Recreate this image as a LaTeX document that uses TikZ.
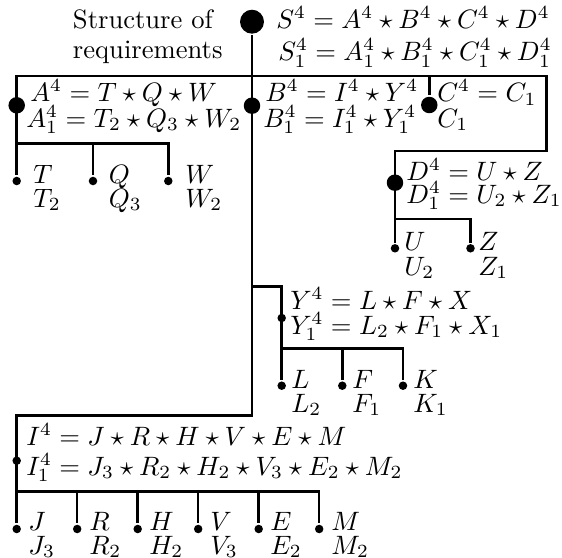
\documentclass[tikz,border=0pt]{standalone}
\begin{document}
\begin{tikzpicture}[x=0.376pt,y=-0.376pt,line width=0.95pt,
  rootdot/.style={circle,fill,inner sep=0pt,minimum size=9pt},
  middot/.style={circle,fill,inner sep=0pt,minimum size=6.2pt},
  leafdot/.style={circle,fill,inner sep=0pt,minimum size=3.2pt},
  lbl/.style={anchor=base west,inner sep=0pt}]
\useasboundingbox (0,0) rectangle (562,558);
% dots
\node[rootdot] (root) at (252,21.7) {};
\node[middot] (A) at (16.7,105.3) {};
\node[middot] (B) at (252,105.7) {};
\node[middot] (C) at (429.3,105) {};
\node[middot] (D) at (395,182.7) {};
\node[leafdot] (Y) at (281.7,318) {};
\node[leafdot] (I) at (16.7,460.7) {};
\node[leafdot] (T) at (16.7,181) {};
\node[leafdot] (Q) at (93,181) {};
\node[leafdot] (W) at (168.3,181) {};
\node[leafdot] (U) at (395,248.3) {};
\node[leafdot] (Z) at (470.5,248.3) {};
\node[leafdot] (L) at (281.7,385.7) {};
\node[leafdot] (F) at (342.3,385.7) {};
\node[leafdot] (K) at (403,385.7) {};
\node[leafdot] (J) at (16.7,529) {};
\node[leafdot] (R) at (77.2,529) {};
\node[leafdot] (H) at (137.7,529) {};
\node[leafdot] (V) at (198.2,529) {};
\node[leafdot] (E) at (258.7,529) {};
\node[leafdot] (M) at (319.2,529) {};
% junctions
\coordinate (barL) at (16.7,76);
\coordinate (barC) at (429.3,76);
\coordinate (barR) at (546.7,76);
\coordinate (aBar) at (16.7,143.3);
\coordinate (qTop) at (93,143.3);
\coordinate (wTop) at (168.3,143.3);
\coordinate (dC1) at (546.7,151);
\coordinate (dC2) at (395,151);
\coordinate (dBar) at (395,219);
\coordinate (zTop) at (470.5,219);
\coordinate (yTurn) at (252,286.7);
\coordinate (yTop) at (281.7,286.7);
\coordinate (yBar) at (281.7,348.3);
\coordinate (fTop) at (342.3,348.3);
\coordinate (kTop) at (403,348.3);
\coordinate (iTurn) at (252,415.7);
\coordinate (iTop) at (16.7,415.7);
\coordinate (iBar) at (16.7,491.7);
\coordinate (rTop) at (77.2,491.7);
\coordinate (hTop) at (137.7,491.7);
\coordinate (vTop) at (198.2,491.7);
\coordinate (eTop) at (258.7,491.7);
\coordinate (mTop) at (319.2,491.7);
% connectors
\draw (root) -- (iTurn) -- (iTop) -- (J);
\draw (U) -- (dC2) -- (dC1) -- (barR) -- (barL) -- (T);
\draw (aBar) -- (wTop) -- (W);
\draw (qTop) -- (Q);
\draw (barC) -- (C);
\draw (dBar) -- (zTop) -- (Z);
\draw (yTurn) -- (yTop) -- (L);
\draw (yBar) -- (kTop) -- (K);
\draw (fTop) -- (F);
\draw (iBar) -- (mTop) -- (M);
\draw (rTop) -- (R);
\draw (hTop) -- (H);
\draw (vTop) -- (V);
\draw (eTop) -- (E);
% texts
\node[lbl] (st1) at (71.7,28.3) {Structure of};
\node[lbl] (st2) at (71.7,58) {requirements};
\node[lbl] (s1) at (275,28.5) {$S^4 = A^4\star B^4\star C^4\star D^4$};
\node[lbl] (s2) at (277,60.5) {$S^4_1 = A^4_1\star B^4_1\star C^4_1\star D^4_1$};
\node[lbl] (a1) at (29,101.5) {$A^4 = T\star Q\star W$};
\node[lbl] (a2) at (25,127) {$A^4_1 = T_2\star Q_3\star W_2$};
\node[lbl] (b1) at (264,101.5) {$B^4 = I^4\star Y^4$};
\node[lbl] (b2) at (262,127) {$B^4_1 = I^4_1\star Y^4_1$};
\node[lbl] (c1) at (436,101.5) {$C^4 = C_1$};
\node[lbl] (c2) at (436,127) {$C_1$};
\node[lbl] (d1) at (405,180) {$D^4 = U\star Z$};
\node[lbl] (d2) at (405,203) {$D^4_1 = U_2\star Z_1$};
\node[lbl] (y1) at (289,309) {$Y^4 = L\star F\star X$};
\node[lbl] (y2) at (289,334) {$Y^4_1 = L_2\star F_1\star X_1$};
\node[lbl] (i1) at (25,445) {$I^4 = J\star R\star H\star V\star E\star M$};
\node[lbl] (i2) at (25,475) {$I^4_1 = J_3\star R_2\star H_2\star V_3\star E_2\star M_2$};
% leaf labels
\node[lbl] (tl1) at (32,183) {$T$};
\node[lbl] (tl2) at (32,207) {$T_2$};
\node[lbl] (ql1) at (107.5,183) {$Q$};
\node[lbl] (ql2) at (107.5,207) {$Q_3$};
\node[lbl] (wl1) at (184,183) {$W$};
\node[lbl] (wl2) at (184,207) {$W_2$};
\node[lbl] (ul1) at (403,250.5) {$U$};
\node[lbl] (ul2) at (403,275) {$U_2$};
\node[lbl] (zl1) at (477,250.5) {$Z$};
\node[lbl] (zl2) at (477,275) {$Z_1$};
\node[lbl] (ll1) at (290,388) {$L$};
\node[lbl] (ll2) at (290,412) {$L_2$};
\node[lbl] (fl1) at (351,388) {$F$};
\node[lbl] (fl2) at (351,412) {$F_1$};
\node[lbl] (kl1) at (412,388) {$K$};
\node[lbl] (kl2) at (412,412) {$K_1$};
\node[lbl] (jl1) at (27,530) {$J$};
\node[lbl] (jl2) at (27,554) {$J_3$};
\node[lbl] (rl1) at (88,530) {$R$};
\node[lbl] (rl2) at (88,554) {$R_2$};
\node[lbl] (hl1) at (148,530) {$H$};
\node[lbl] (hl2) at (148,554) {$H_2$};
\node[lbl] (vl1) at (209,530) {$V$};
\node[lbl] (vl2) at (209,554) {$V_3$};
\node[lbl] (el1) at (269,530) {$E$};
\node[lbl] (el2) at (269,554) {$E_2$};
\node[lbl] (ml1) at (330,530) {$M$};
\node[lbl] (ml2) at (330,554) {$M_2$};
\end{tikzpicture}
\end{document}
